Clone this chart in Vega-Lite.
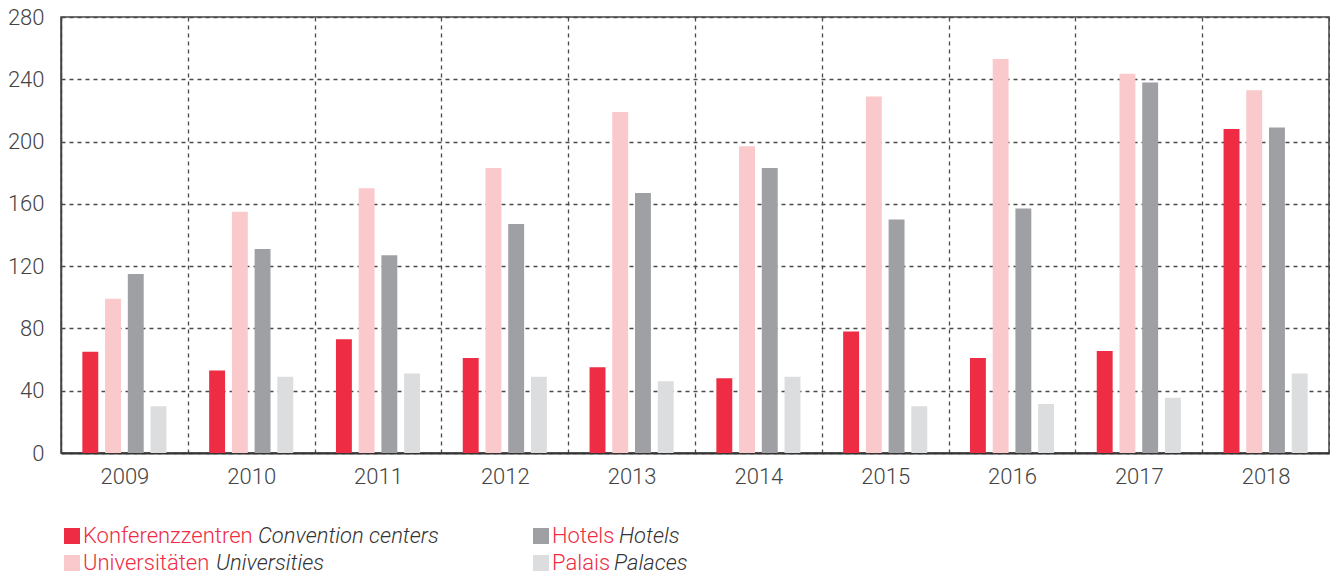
{
  "$schema": "https://vega.github.io/schema/vega-lite/v6.json",
  "autosize": {"type": "none"},
  "width": 1268,
  "height": 436,
  "padding": {"left": 61, "top": 17, "right": 1, "bottom": 121},
  "background": "white",
  "config": {
    "view": {"stroke": "#444444", "strokeWidth": 1.5},
    "font": "Roboto",
    "legend": {
      "orient": "none",
      "title": null,
      "padding": 0,
      "labelFont": "Roboto",
      "labelFontSize": 22,
      "labelFontWeight": 300,
      "labelLimit": 500,
      "direction": "horizontal",
      "columns": 2,
      "rowPadding": 5
    }
  },
  "data": {
    "values": [
      {"year": "2009", "series": "Konferenzzentren", "en": "Convention centers", "value": 65},
      {"year": "2009", "series": "Universitäten", "en": "Universities", "value": 99},
      {"year": "2009", "series": "Hotels", "en": "Hotels", "value": 115},
      {"year": "2009", "series": "Palais", "en": "Palaces", "value": 30},
      {"year": "2010", "series": "Konferenzzentren", "en": "Convention centers", "value": 53},
      {"year": "2010", "series": "Universitäten", "en": "Universities", "value": 155},
      {"year": "2010", "series": "Hotels", "en": "Hotels", "value": 131},
      {"year": "2010", "series": "Palais", "en": "Palaces", "value": 49},
      {"year": "2011", "series": "Konferenzzentren", "en": "Convention centers", "value": 73},
      {"year": "2011", "series": "Universitäten", "en": "Universities", "value": 170},
      {"year": "2011", "series": "Hotels", "en": "Hotels", "value": 127},
      {"year": "2011", "series": "Palais", "en": "Palaces", "value": 51},
      {"year": "2012", "series": "Konferenzzentren", "en": "Convention centers", "value": 61},
      {"year": "2012", "series": "Universitäten", "en": "Universities", "value": 183},
      {"year": "2012", "series": "Hotels", "en": "Hotels", "value": 147},
      {"year": "2012", "series": "Palais", "en": "Palaces", "value": 49},
      {"year": "2013", "series": "Konferenzzentren", "en": "Convention centers", "value": 55},
      {"year": "2013", "series": "Universitäten", "en": "Universities", "value": 219},
      {"year": "2013", "series": "Hotels", "en": "Hotels", "value": 167},
      {"year": "2013", "series": "Palais", "en": "Palaces", "value": 46},
      {"year": "2014", "series": "Konferenzzentren", "en": "Convention centers", "value": 48},
      {"year": "2014", "series": "Universitäten", "en": "Universities", "value": 197},
      {"year": "2014", "series": "Hotels", "en": "Hotels", "value": 183},
      {"year": "2014", "series": "Palais", "en": "Palaces", "value": 49},
      {"year": "2015", "series": "Konferenzzentren", "en": "Convention centers", "value": 78},
      {"year": "2015", "series": "Universitäten", "en": "Universities", "value": 229},
      {"year": "2015", "series": "Hotels", "en": "Hotels", "value": 150},
      {"year": "2015", "series": "Palais", "en": "Palaces", "value": 30},
      {"year": "2016", "series": "Konferenzzentren", "en": "Convention centers", "value": 61},
      {"year": "2016", "series": "Universitäten", "en": "Universities", "value": 253},
      {"year": "2016", "series": "Hotels", "en": "Hotels", "value": 157},
      {"year": "2016", "series": "Palais", "en": "Palaces", "value": 31.5},
      {"year": "2017", "series": "Konferenzzentren", "en": "Convention centers", "value": 65.5},
      {"year": "2017", "series": "Universitäten", "en": "Universities", "value": 243.5},
      {"year": "2017", "series": "Hotels", "en": "Hotels", "value": 238},
      {"year": "2017", "series": "Palais", "en": "Palaces", "value": 35.5},
      {"year": "2018", "series": "Konferenzzentren", "en": "Convention centers", "value": 208},
      {"year": "2018", "series": "Universitäten", "en": "Universities", "value": 233},
      {"year": "2018", "series": "Hotels", "en": "Hotels", "value": 209},
      {"year": "2018", "series": "Palais", "en": "Palaces", "value": 51}
    ]
  },
  "encoding": {
    "x": {
      "field": "year",
      "type": "nominal",
      "scale": {"paddingInner": 0, "paddingOuter": 0},
      "axis": {
        "title": null,
        "labelAngle": 0,
        "labelFont": "Roboto",
        "labelFontSize": 22,
        "labelFontWeight": 300,
        "labelColor": "#444444",
        "labelPadding": 13,
        "ticks": false,
        "domainColor": "#333333",
        "domainWidth": 2,
        "grid": true,
        "tickBand": "extent",
        "gridColor": "#4a4a4a",
        "gridDash": [4, 4],
        "gridWidth": 1.3
      }
    },
    "y": {
      "field": "value",
      "type": "quantitative",
      "scale": {"domain": [0, 280], "nice": false},
      "axis": {
        "title": null,
        "values": [0, 40, 80, 120, 160, 200, 240, 280],
        "labelFont": "Roboto",
        "labelFontSize": 22,
        "labelFontWeight": 300,
        "labelColor": "#444444",
        "labelPadding": 17,
        "ticks": false,
        "domainColor": "#444444",
        "domainWidth": 1.5,
        "grid": true,
        "gridColor": "#4a4a4a",
        "gridDash": [4, 4],
        "gridWidth": 1.3
      }
    }
  },
  "layer": [
    {
      "mark": {"type": "bar"},
      "encoding": {
        "xOffset": {
          "field": "series",
          "type": "nominal",
          "sort": ["Konferenzzentren", "Universitäten", "Hotels", "Palais"],
          "scale": {"paddingInner": 0.3, "paddingOuter": 0.94}
        },
        "color": {
          "field": "series",
          "type": "nominal",
          "scale": {
            "domain": ["Konferenzzentren", "Hotels", "Universitäten", "Palais"],
            "range": ["#EE2C43", "#9FA0A4", "#F9C9CC", "#DCDDDF"]
          },
          "legend": {
            "legendX": 0,
            "legendY": 508,
            "symbolType": "square",
            "symbolSize": 256,
            "symbolStrokeWidth": 0,
            "symbolOpacity": 1,
            "labelOffset": 0,
            "labelColor": "#EE2C43",
            "columnPadding": 277
          }
        }
      }
    },
    {
      "transform": [{"filter": {"field": "en", "oneOf": ["Convention centers", "Hotels"]}}],
      "mark": {"type": "point", "opacity": 0},
      "encoding": {
        "color": {
          "field": "en",
          "type": "nominal",
          "scale": {"domain": ["Convention centers", "Hotels"], "range": ["#ffffff", "#ffffff"]},
          "legend": {
            "legendX": 175,
            "legendY": 508,
            "symbolSize": 0,
            "symbolStrokeWidth": 0,
            "symbolOpacity": 0,
            "labelOffset": 0,
            "labelColor": "#333333",
            "labelFontStyle": "italic",
            "columnPadding": 158
          }
        }
      }
    },
    {
      "transform": [{"filter": {"field": "en", "oneOf": ["Universities", "Palaces"]}}],
      "mark": {"type": "point", "opacity": 0},
      "encoding": {
        "color": {
          "field": "en",
          "type": "nominal",
          "scale": {"domain": ["Universities", "Palaces"], "range": ["#ffffff", "#ffffff"]},
          "legend": {
            "legendX": 133,
            "legendY": 535,
            "symbolSize": 0,
            "symbolStrokeWidth": 0,
            "symbolOpacity": 0,
            "labelOffset": 0,
            "labelColor": "#333333",
            "labelFontStyle": "italic",
            "columnPadding": 267
          }
        }
      }
    }
  ],
  "resolve": {"scale": {"color": "independent"}, "legend": {"color": "independent"}}
}
